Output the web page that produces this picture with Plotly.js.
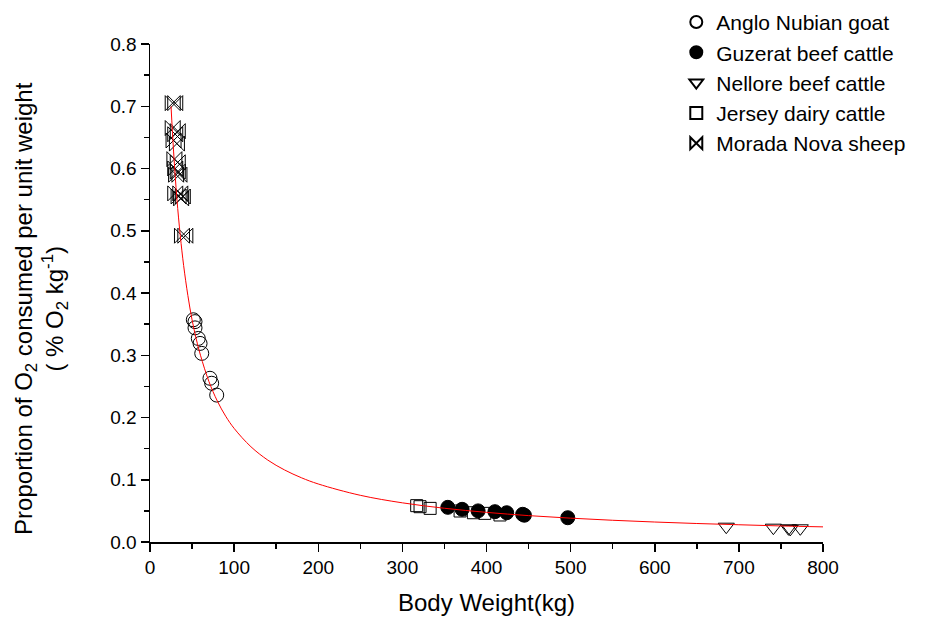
<!DOCTYPE html>
<html>
<head>
<meta charset="utf-8">
<script src="https://cdn.plot.ly/plotly-3.0.1.min.js"></script>
<style>html,body{margin:0;padding:0;background:#fff;}#chart{width:937px;height:619px;}</style>
</head>
<body>
<div id="chart"></div>
<script>
// Data
var goatX = [51.5, 53.5, 53.5, 57.4, 59.5, 61.5, 71.3, 73.3, 79.3];
var goatY = [0.357, 0.354, 0.344, 0.327, 0.319, 0.303, 0.263, 0.255, 0.236];

var guzeratX = [354, 371, 390, 410, 424, 443, 445, 496.6];
var guzeratY = [0.0557, 0.0525, 0.050, 0.0487, 0.047, 0.0445, 0.043, 0.039];

var nelloreX = [685, 741, 759, 761, 773];
var nelloreY = [0.0246, 0.023, 0.022, 0.021, 0.022];

var jerseyX = [317, 321, 333, 368.6, 384.4, 398, 416];
var jerseyY = [0.0584, 0.0567, 0.054, 0.0498, 0.047, 0.046, 0.0434];

var sheepX = [27, 30, 27, 30, 33, 28, 32, 29, 33, 30, 33, 35, 31, 30, 34, 36, 37, 39, 38, 42];
var sheepY = [0.705, 0.705, 0.665, 0.655, 0.66, 0.645, 0.640, 0.615, 0.610, 0.600, 0.595, 0.590, 0.590, 0.560, 0.555, 0.560, 0.552, 0.555, 0.492, 0.492];

// fitted curve
var curveX = [25, 28, 32, 36, 40, 45, 50, 55, 60, 70, 80, 90, 100, 120, 140, 160, 180, 200, 250, 300, 350, 400, 450, 500, 550, 600, 650, 700, 750, 800];
var curveY = [0.700, 0.628, 0.551, 0.492, 0.444, 0.396, 0.357, 0.326, 0.300, 0.258, 0.2265, 0.202, 0.1825, 0.153, 0.1316, 0.1157, 0.1032, 0.0932, 0.0750, 0.0629, 0.0542, 0.0476, 0.0424, 0.0383, 0.0349, 0.0321, 0.0297, 0.0277, 0.0258, 0.0243];

var seriesNames = ['Anglo Nubian goat', 'Guzerat beef cattle', 'Nellore beef cattle', 'Jersey dairy cattle', 'Morada Nova sheep'];
var yTitle = 'Proportion of O<sub>2</sub> consumed per unit weight<br>( % O<sub>2</sub> kg<sup>-1</sup>)';
var xTitle = 'Body Weight(kg)';

var black = '#000000';
var traces = [
  {x: goatX, y: goatY, name: seriesNames[0], type: 'scatter', mode: 'markers',
   marker: {symbol: 'circle-open', size: 14, color: black, line: {width: 1, color: black}}},
  {x: guzeratX, y: guzeratY, name: seriesNames[1], type: 'scatter', mode: 'markers',
   marker: {symbol: 'circle', size: 14, color: black, line: {width: 1, color: black}}},
  {x: nelloreX, y: nelloreY, name: seriesNames[2], type: 'scatter', mode: 'markers',
   marker: {symbol: 'triangle-down-open', size: 14, color: black, line: {width: 1, color: black}}},
  {x: jerseyX, y: jerseyY, name: seriesNames[3], type: 'scatter', mode: 'markers',
   marker: {symbol: 'square-open', size: 12, color: black, line: {width: 1, color: black}}},
  {x: sheepX, y: sheepY, name: seriesNames[4], type: 'scatter', mode: 'markers',
   marker: {symbol: 'bowtie-open', size: 15, color: black, line: {width: 1, color: black}}},
  {x: curveX, y: curveY, type: 'scatter', mode: 'lines', showlegend: false, hoverinfo: 'skip',
   line: {color: '#ff0000', width: 1, shape: 'spline', smoothing: 1}}
];

var layout = {
  width: 937, height: 619,
  margin: {l: 150, r: 114, t: 44, b: 77, autoexpand: false},
  paper_bgcolor: '#fff', plot_bgcolor: '#fff',
  font: {family: 'Liberation Sans, Arial, sans-serif', color: '#000'},
  showlegend: true,
  legend: {x: 0.782, y: 0.997, yref: 'container', xanchor: 'left', yanchor: 'top', font: {size: 21, color: '#000'},
           bgcolor: 'rgba(0,0,0,0)', tracegroupgap: 0, itemsizing: 'constant'},
  xaxis: {
    range: [0, 800], dtick: 100, tick0: 0, showgrid: false, zeroline: false,
    showline: true, linecolor: '#000', linewidth: 1.5,
    ticks: 'outside', ticklen: 8, tickwidth: 1.5, tickcolor: '#000',
    tickfont: {size: 19},
    minor: {dtick: 50, ticks: 'outside', ticklen: 5, tickwidth: 1.5, tickcolor: '#000', showgrid: false},
    title: {text: xTitle, font: {size: 24}, standoff: 17}
  },
  yaxis: {
    range: [0, 0.8], dtick: 0.1, tick0: 0, tickformat: '.1f', showgrid: false, zeroline: false,
    showline: true, linecolor: '#000', linewidth: 1.5,
    ticks: 'outside', ticklen: 8, tickwidth: 1.5, tickcolor: '#000',
    tickfont: {size: 19},
    minor: {dtick: 0.05, ticks: 'outside', ticklen: 5, tickwidth: 1.5, tickcolor: '#000', showgrid: false}
  },
  annotations: [{
    text: yTitle, xref: 'paper', yref: 'paper', x: -0.162, y: 0.47,
    xanchor: 'center', yanchor: 'middle', textangle: -90, showarrow: false,
    font: {size: 24, color: '#000'}
  }]
};

Plotly.newPlot('chart', traces, layout, {displayModeBar: false, staticPlot: true});
</script>
</body>
</html>
